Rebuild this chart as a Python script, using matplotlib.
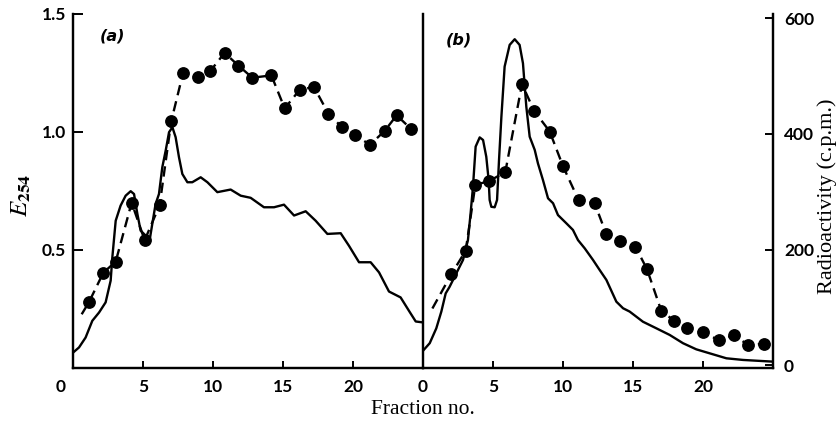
import matplotlib
matplotlib.use("Agg")
import matplotlib.pyplot as plt
import matplotlib.transforms as mtransforms

plt.rcParams['mathtext.fontset'] = 'stix'

# ---------------- data ----------------
# Panel (a): E254 trace (solid)
a_e_x = [0.02, 0.43, 0.9, 1.38, 1.86, 2.33, 2.69, 2.81, 3.05, 3.40, 3.76, 4.12, 4.36, 4.6,
         4.83, 5.19, 5.5, 5.74, 5.9, 6.14, 6.38, 6.62, 6.86, 7.1, 7.33, 7.57, 7.81, 8.17,
         8.52, 9.12, 9.6, 10.31, 11.26, 11.98, 12.69, 13.64, 14.36, 15.07, 15.79, 16.62,
         17.33, 18.17, 19.12, 19.71, 20.43, 21.26, 21.86, 22.57, 23.4, 24.0, 24.48, 25.0]
a_e_y = [0.064, 0.085, 0.127, 0.198, 0.233, 0.276, 0.368, 0.467, 0.622, 0.686, 0.728, 0.747,
         0.735, 0.65, 0.58, 0.559, 0.549, 0.636, 0.693, 0.735, 0.849, 0.919, 0.997, 1.018,
         0.976, 0.891, 0.82, 0.785, 0.785, 0.806, 0.785, 0.743, 0.754, 0.728, 0.719, 0.679,
         0.679, 0.69, 0.644, 0.662, 0.622, 0.566, 0.569, 0.516, 0.446, 0.446, 0.403, 0.322,
         0.297, 0.24, 0.195, 0.191]
# Panel (a): radioactivity (c.p.m.), dashed with dots
a_r_x = [0.62, 1.14, 2.17, 3.05, 4.19, 5.12, 6.19, 7.02, 7.86, 8.93, 9.79, 10.83, 11.81,
         12.81, 14.17, 15.12, 16.19, 17.21, 18.24, 19.19, 20.14, 21.21, 22.26, 23.12, 24.12]
a_r_y = [88, 109, 160, 179, 281, 216, 277, 422, 505, 499, 508, 540, 518, 497, 501, 444,
         476, 481, 435, 412, 398, 381, 405, 432, 409]

# Panel (b): E254 trace (solid)
b_e_x = [0.0, 0.48, 0.95, 1.31, 1.62, 1.9, 2.38, 2.86, 3.21, 3.4, 3.57, 3.76, 4.05, 4.29,
         4.52, 4.69, 4.76, 4.88, 5.12, 5.29, 5.43, 5.6, 5.83, 6.19, 6.55, 6.9, 7.14, 7.38,
         7.62, 7.98, 8.21, 8.57, 8.93, 9.29, 9.64, 10.24, 10.71, 11.07, 11.55, 12.14,
         12.62, 13.1, 13.81, 14.29, 14.76, 15.71, 16.67, 17.62, 18.57, 19.52, 20.48,
         21.67, 22.86, 24.05, 24.95]
b_e_y = [0.071, 0.103, 0.166, 0.237, 0.314, 0.342, 0.399, 0.456, 0.540, 0.653, 0.766,
         0.936, 0.975, 0.964, 0.893, 0.794, 0.710, 0.681, 0.679, 0.710, 0.879, 1.063,
         1.275, 1.367, 1.391, 1.367, 1.289, 1.105, 0.978, 0.922, 0.865, 0.794, 0.717,
         0.696, 0.646, 0.611, 0.583, 0.540, 0.505, 0.456, 0.413, 0.371, 0.279, 0.251,
         0.237, 0.194, 0.166, 0.138, 0.103, 0.077, 0.060, 0.039, 0.032, 0.028, 0.025]
# Panel (b): radioactivity (c.p.m.)
b_r_x = [0.67, 2.02, 3.05, 3.74, 4.71, 5.88, 7.07, 7.93, 9.05, 10.0, 11.12, 12.26, 13.1,
         14.05, 15.17, 16.0, 17.02, 17.93, 18.86, 20.0, 21.14, 22.21, 23.21, 24.33]
b_r_y = [98, 157, 198, 312, 318, 334, 486, 440, 404, 344, 285, 280, 226, 215, 205, 166,
         94, 77, 64, 57, 43, 52, 35, 37]

x_ticks = [0, 5, 10, 15, 20]
e_ticks = [0.5, 1.0, 1.5]
e_tick_labels = ['0.5', '1.0', '1.5']
r_ticks = [0, 200, 400, 600]

# ---------------- figure ----------------
W, H = 838, 425
fig = plt.figure(figsize=(W / 100, H / 100), dpi=100)

def rect(x0, y0, x1, y1):
    return [x0 / W, 1 - y1 / H, (x1 - x0) / W, (y1 - y0) / H]

ax_a = fig.add_axes(rect(73, 13.5, 423, 367.5))
ax_b = fig.add_axes(rect(423, 13.5, 773, 367.5))
tw_a = ax_a.twinx()
tw_b = ax_b.twinx()

tick_font = dict(family='Lato', weight='bold', size=12.5)
dash = (0, (4.4, 2.6))

for ax, tw, ex, ey, rx, ry in [(ax_a, tw_a, a_e_x, a_e_y, a_r_x, a_r_y),
                               (ax_b, tw_b, b_e_x, b_e_y, b_r_x, b_r_y)]:
    ax.set_xlim(0, 25)
    ax.set_ylim(0, 1.5)
    tw.set_ylim(-4, 608)
    ax.plot(ex, ey, color='black', lw=1.7, solid_joinstyle='round')
    tw.plot(rx, ry, color='black', lw=1.7, linestyle=dash)
    tw.plot(rx[1:], ry[1:], 'o', color='black', ms=8.2, linestyle='none')
    ax.spines['top'].set_visible(False)
    tw.spines['top'].set_visible(False)
    for a in (ax, tw):
        for sp in a.spines.values():
            sp.set_linewidth(1.6)
    ax.set_xticks(x_ticks)
    ax.set_xticklabels([str(t) for t in x_ticks], fontdict=tick_font)
    ax.tick_params(axis='x', direction='in', length=5, width=1.4, pad=8)
    ax.patch.set_visible(False)

# shift the "0" label of panel (a) slightly left, as in the original
lab0 = ax_a.get_xticklabels()[0]
lab0.set_transform(lab0.get_transform() +
                   mtransforms.ScaledTranslation(-12 / 100, 0, fig.dpi_scale_trans))

# left axis (panel a)
ax_a.set_yticks(e_ticks)
ax_a.set_yticklabels(e_tick_labels, fontdict=tick_font)
ax_a.tick_params(axis='y', direction='in', length=7, width=1.4, pad=5)
tw_a.set_yticks([])
tw_a.spines['right'].set_visible(True)
ax_a.spines['right'].set_visible(False)

# panel b: no left ticks
ax_b.set_yticks([])
tw_b.spines['left'].set_visible(False)
tw_b.set_yticks(r_ticks)
tw_b.set_yticklabels([str(t) for t in r_ticks], fontdict=tick_font)
tw_b.tick_params(axis='y', direction='in', length=6, width=1.4, pad=8)

# labels
fig.text(113 / W, 1 - 36 / H, '(a)', ha='center', va='center',
         family='DejaVu Sans', weight='bold', style='italic', fontsize=11.5)
fig.text(459 / W, 1 - 40 / H, '(b)', ha='center', va='center',
         family='DejaVu Sans', weight='bold', style='italic', fontsize=11.5)

fig.text(21 / W, 1 - 195 / H, r'$E_{\mathbf{254}}$', rotation=90, ha='center', va='center',
         fontsize=18)
fig.text(827 / W, 1 - 196 / H, 'Radioactivity (c.p.m.)', rotation=90, ha='center',
         va='center', family='Liberation Serif', fontsize=16)
fig.text(423 / W, 1 - 410 / H, 'Fraction no.', ha='center', va='center',
         family='Liberation Serif', fontsize=15.5)

fig.savefig('out.png', dpi=100)
